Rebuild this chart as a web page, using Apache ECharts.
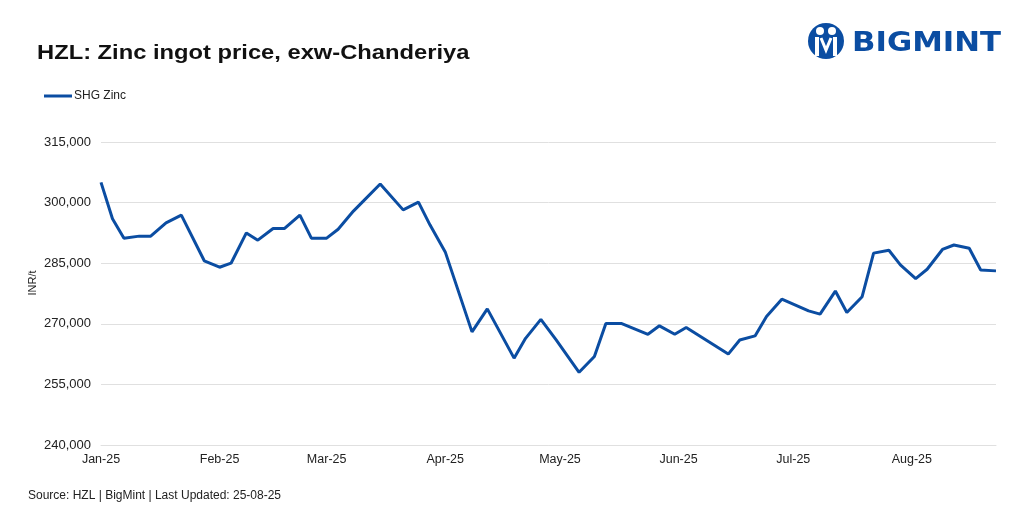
<!DOCTYPE html>
<html>
<head>
<meta charset="utf-8">
<script src="https://cdn.jsdelivr.net/npm/echarts@6/dist/echarts.min.js"></script>
<style>
html,body{margin:0;padding:0;background:#fff;}
#chart{width:1018px;height:518px;}
</style>
</head>
<body>
<div id="chart"></div>
<script>
const dates = ['2025-01-01','2025-01-04','2025-01-07','2025-01-11','2025-01-14','2025-01-18','2025-01-22','2025-01-28',
 '2025-02-01','2025-02-04','2025-02-08','2025-02-11','2025-02-15','2025-02-18','2025-02-22','2025-02-25',
 '2025-03-01','2025-03-04','2025-03-08','2025-03-10','2025-03-15','2025-03-21','2025-03-25','2025-03-28',
 '2025-04-01','2025-04-08','2025-04-12','2025-04-19','2025-04-22','2025-04-26','2025-04-30',
 '2025-05-06','2025-05-10','2025-05-13','2025-05-17','2025-05-24','2025-05-27','2025-05-31',
 '2025-06-03','2025-06-14','2025-06-17','2025-06-21','2025-06-24','2025-06-28',
 '2025-07-05','2025-07-08','2025-07-12','2025-07-15','2025-07-19','2025-07-22','2025-07-26','2025-07-29',
 '2025-08-02','2025-08-05','2025-08-09','2025-08-12','2025-08-16','2025-08-19','2025-08-23'];
const shgZinc = [305000,296000,291200,291700,291700,295000,296900,285600,
 284000,285000,292500,290700,293600,293600,296900,291200,
 291200,293400,297900,299800,304600,298200,300100,294500,
 287800,268000,273700,261500,266400,271100,266000,
 258000,261900,270100,270100,267400,269500,267400,
 269100,262500,266000,267000,271800,276100,
 273200,272400,278100,272800,276700,287500,288200,284600,
 281200,283500,288400,289500,288700,283300,283100];
const seriesName = 'SHG Zinc';
const titleText = 'HZL: Zinc ingot price, exw-Chanderiya';
const sourceText = 'Source: HZL | BigMint | Last Updated: 25-08-25';
const yAxisName = 'INR/t';
const yTicks = {min:240000, max:315000, interval:15000};
const monthNames = ['Jan','Feb','Mar','Apr','May','Jun','Jul','Aug','Sep','Oct','Nov','Dec'];

const chart = echarts.init(document.getElementById('chart'));
const blue = '#0B4DA2';
const font = 'Liberation Sans, Arial, sans-serif';
chart.setOption({
  backgroundColor:'#fff',
  animation:false,
  textStyle:{fontFamily:font},
  legend:{data:[seriesName],left:39,top:85,icon:'rect',itemWidth:28,itemHeight:3,itemGap:10,
    textStyle:{fontSize:12,color:'#222',fontFamily:font,padding:[0,0,0,-3]}},
  grid:{left:101,right:22,top:142,bottom:73,containLabel:false},
  xAxis:{type:'time',min:'2025-01-01',max:'2025-08-23',splitNumber:8,
    axisLine:{show:true,lineStyle:{color:'#e0e0e0'}},axisTick:{show:false},splitLine:{show:false},
    axisLabel:{fontSize:12.5,color:'#222',margin:8,hideOverlap:true,
      formatter:function(v){const d=new Date(v);return monthNames[d.getMonth()]+'-'+String(d.getFullYear()).slice(2);}}},
  yAxis:{type:'value',min:yTicks.min,max:yTicks.max,interval:yTicks.interval,
    axisLine:{show:false},axisTick:{show:false},
    splitLine:{lineStyle:{color:'#e0e0e0'}},
    axisLabel:{fontSize:13,color:'#222',margin:10,formatter:function(v){return v.toLocaleString('en-US');}}},
  series:[{name:seriesName,type:'line',data:dates.map((d,i)=>[d,shgZinc[i]]),
    showSymbol:false,symbol:'none',lineStyle:{color:blue,width:3},itemStyle:{color:blue}}],
  graphic:[
    {type:'text',x:37,y:43,scaleX:1.13,style:{text:titleText,font:'bold 21px Liberation Sans, Arial, sans-serif',fill:'#111'}},
    {type:'text',x:33,y:283,rotation:Math.PI/2,style:{text:yAxisName,font:'11px Liberation Sans, Arial, sans-serif',fill:'#222',align:'center',verticalAlign:'middle'}},
    {type:'circle',shape:{cx:826,cy:41,r:18},style:{fill:blue}},
    {type:'circle',shape:{cx:820,cy:31,r:4},style:{fill:'#fff'}},
    {type:'circle',shape:{cx:832,cy:31,r:4},style:{fill:'#fff'}},
    {type:'rect',shape:{x:815,y:37,width:4,height:19},style:{fill:'#fff'}},
    {type:'rect',shape:{x:833,y:37,width:4,height:19},style:{fill:'#fff'}},
    {type:'polyline',shape:{points:[[821,38],[826,50],[831,38]]},style:{stroke:'#fff',lineWidth:3,fill:null}},
    {type:'text',x:852,y:30,scaleX:1.14,style:{text:'BIGMINT',font:'bold 27px DejaVu Sans',fill:blue}},
    {type:'text',left:28,top:490,style:{text:sourceText,font:'12px Liberation Sans, Arial, sans-serif',fill:'#222'}}
  ]
});
</script>
</body>
</html>
